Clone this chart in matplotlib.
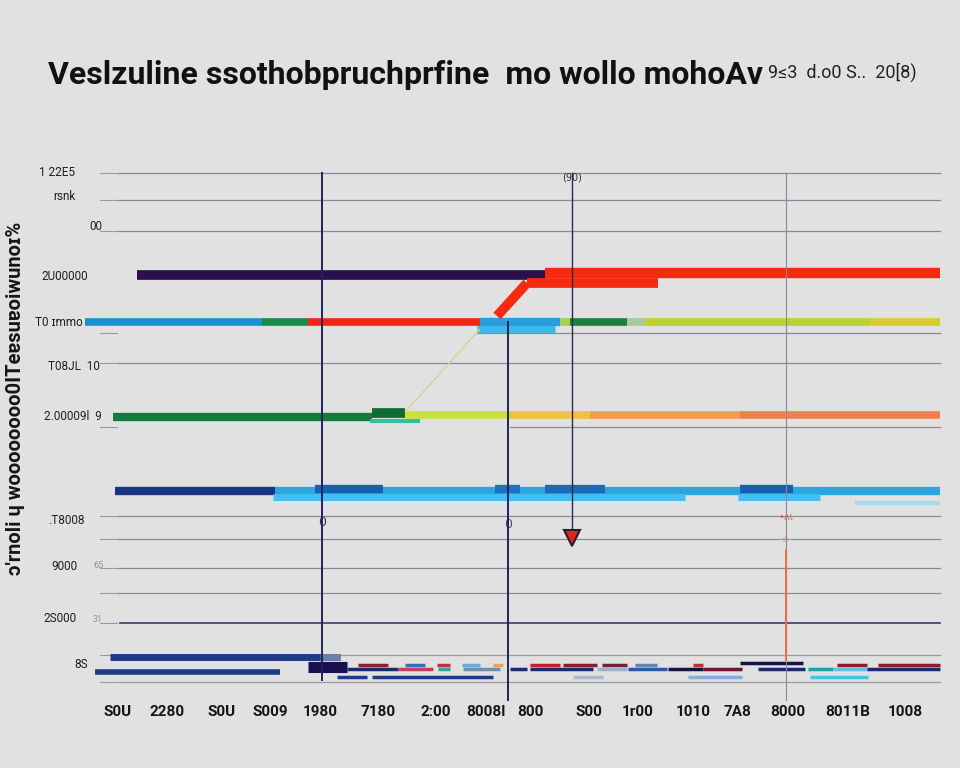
import matplotlib
matplotlib.use('Agg')
import matplotlib.pyplot as plt

# chart units: x runs 0..855 across the plot, y runs 0..540 bottom to top
bg = '#e1e1e1'

grid_y = [527, 500, 469, 367, 337, 273, 184, 161, 132, 107, 77, 45, 18]
grid_x0 = [28, 28, 28, 387, 28, 420, 28, 28, 28, 28, 30, 250, 28]
grid_col = ['#8a8a9a'] * 10 + ['#3a3a70', '#9a9aa0', '#9a9aa0']

vlines_x = [232, 418, 482, 696]
vlines_lo = [20, 0, 160, 0]
vlines_hi = [527, 378, 527, 527]
vlines_col = ['#22225a', '#22225a', '#2a2a4a', '#8a8a95']
vlines_lw = [1.4, 1.4, 1.0, 0.8]

# thick bars: x start, x end, y, colour, width
bars = [
    (47, 455, 425, '#2b1050', 7),
    (455, 850, 427, '#f52a10', 7.5),
    (437, 568, 417, '#f52a10', 7),
    (-5, 172, 378, '#1b8fd0', 5.5),
    (172, 218, 378, '#1a8a4a', 5.5),
    (218, 395, 378, '#f02515', 5.5),
    (390, 470, 378, '#2a9ee0', 6),
    (387, 465, 371, '#3ab8e8', 5),
    (470, 480, 378, '#a8d050', 5.5),
    (480, 537, 378, '#1e7e3e', 5.5),
    (537, 555, 378, '#a8c8a0', 5.5),
    (555, 780, 378, '#bcd030', 5.5),
    (780, 850, 378, '#d8cc30', 5.5),
    (23, 282, 283, '#157a40', 6),
    (280, 330, 279, '#30c0a0', 3),
    (282, 315, 287, '#106a35', 7),
    (315, 420, 285, '#cce040', 5.5),
    (420, 500, 285, '#f0c040', 5.5),
    (500, 650, 285, '#f29a50', 5.5),
    (650, 850, 285, '#f08050', 5.5),
    (25, 185, 209, '#1a3580', 6),
    (185, 850, 209, '#2aa8de', 6),
    (183, 595, 203, '#40bff0', 5),
    (648, 730, 203, '#40bff0', 5),
    (765, 850, 197, '#a8d8ec', 3),
    (225, 293, 211, '#1a60b0', 6),
    (405, 430, 211, '#2070c0', 6),
    (455, 515, 211, '#1e68b8', 6),
    (650, 703, 211, '#1a5fb0', 6),
    (20, 250, 43, '#1e3a85', 5),
    (230, 250, 43, '#6a80a8', 5),
    (5, 190, 28, '#1e3a85', 4),
    (218, 257, 33, '#1a1050', 8),
]

# small marks in the crowded band near the bottom
bottom_bits = [
    (268, 298, 35, '#8a2030'), (315, 335, 35, '#3070c0'), (347, 360, 35, '#c03040'),
    (372, 390, 35, '#70a8d0'), (403, 413, 35, '#f0a050'), (440, 470, 35, '#c02030'),
    (473, 507, 35, '#8a1a30'), (512, 537, 35, '#702040'), (545, 567, 35, '#6a80b0'),
    (603, 613, 35, '#c03030'), (650, 713, 37, '#141440'), (747, 777, 35, '#8a1a30'),
    (788, 850, 35, '#8a1a30'),
    (257, 308, 31, '#1e2a70'), (308, 343, 31, '#c04060'), (348, 360, 31, '#30a0a0'),
    (373, 410, 31, '#7090b0'), (420, 437, 31, '#1e2a70'), (440, 503, 31, '#1e2a70'),
    (507, 537, 31, '#a0b0c8'), (538, 577, 31, '#2a5aa0'), (578, 613, 31, '#141440'),
    (613, 652, 31, '#6a1a30'), (668, 715, 31, '#1e2a70'), (718, 743, 31, '#20a0a8'),
    (743, 777, 31, '#60c0e0'), (777, 850, 31, '#1e2a70'),
    (247, 277, 23, '#1e3a85'), (282, 403, 23, '#1e3a85'), (483, 513, 23, '#a8b8d0'),
    (598, 652, 23, '#80b0e0'), (720, 778, 23, '#40c8e0'),
]

diag_x = [[407, 437], [315, 390]]
diag_y = [[384, 417], [288, 371]]
diag_col = ['#f52a10', '#c8d890']
diag_lw = [7, 1]

ytick_text = ['1 22E5', 'rsnk', '00', '2U00000', 'T0 ɪmmo', 'T08JL  10',
              '2.00009l  9', '.T8008', '9000', '2S000', '8S']
ytick_y = [527, 503, 474, 423, 378, 334, 284, 180, 134, 81, 35]
ytick_x = [-15, -15, 12, -2, -7, 10, 12, -5, -13, -13, -2]
ytick_small = ['65', '31']
ytick_small_y = [134, 81]

xtick_text = ['S0U', '2280', 'S0U', 'S009', '1980', '7180', '2:00', '8008l',
              '800', 'S00', '1r00', '1010', '7A8', '8000', '8011B', '1008']
xtick_x = [28, 77, 132, 180, 230, 288, 346, 396, 440, 499, 548, 603, 647, 698, 758, 815]

fig = plt.figure(figsize=(9.6, 7.68), dpi=100, facecolor=bg)
ax = fig.add_axes([90 / 960, 68 / 768, 855 / 960, 540 / 768])
ax.set_facecolor(bg)
ax.set_xlim(0, 855)
ax.set_ylim(0, 540)
for s in ax.spines.values():
    s.set_visible(False)
ax.set_xticks([])
ax.set_yticks([])

for y, x0, c in zip(grid_y, grid_x0, grid_col):
    ax.plot([x0, 850], [y, y], color=c, lw=0.9 if c != '#3a3a70' else 1.2, zorder=1)
    ax.plot([10, 27], [y, y], color='#9a9aa0', lw=0.8, zorder=1, clip_on=False)

for x, lo, hi, c, lw in zip(vlines_x, vlines_lo, vlines_hi, vlines_col, vlines_lw):
    ax.plot([x, x], [lo, hi], color=c, lw=lw, zorder=4, clip_on=False)
ax.plot([696, 696], [40, 150], color='#f06a40', lw=1.4, zorder=4)

for x0, x1, y, c, w in bars:
    ax.plot([x0, x1], [y, y], color=c, lw=w, solid_capstyle='butt', zorder=3, clip_on=False)
for x0, x1, y, c in bottom_bits:
    ax.plot([x0, x1], [y, y], color=c, lw=2.5, solid_capstyle='butt', zorder=3)
for xs, ys, c, lw in zip(diag_x, diag_y, diag_col, diag_lw):
    ax.plot(xs, ys, color=c, lw=lw, solid_capstyle='butt', zorder=3)

ax.plot([482], [162], marker='v', ms=11, color='#e82020', mec='#202030', mew=1.5, zorder=5)
ax.text(482, 522, '(90)', fontsize=7, ha='center', va='center', color='#303040')
ax.text(232, 178, '0', fontsize=9, ha='center', va='center', color='#303050')
ax.text(418, 175, '0', fontsize=9, ha='center', va='center', color='#505060')
ax.text(696, 183, '•ᴧι', fontsize=7, ha='center', va='center', color='#e06a40')
ax.text(696, 160, '-±-', fontsize=6, ha='center', va='center', color='#e0a080')

narrow = ['Roboto', 'DejaVu Sans']
for t, y, x in zip(ytick_text, ytick_y, ytick_x):
    ax.text(x, y, t, fontsize=8.5, ha='right', va='center', color='#202020',
            family=narrow, clip_on=False)
for t, y in zip(ytick_small, ytick_small_y):
    ax.text(13, y, t, fontsize=6.5, ha='right', va='center', color='#909090',
            family=narrow, clip_on=False)
for t, x in zip(xtick_text, xtick_x):
    ax.text(x, -12, t, fontsize=11, ha='center', va='center', color='#151515',
            family=narrow, weight='bold', clip_on=False)

fig.text(16 / 960, 1 - 398 / 768, "ɔ'rnoli ɥ woooooooo0ITeɐsuɐoiwunoɪ%",
         rotation=90, fontsize=14.5, ha='center', va='center', color='#151515',
         family=narrow, weight='bold')
fig.text(48 / 960, 1 - 75 / 768, 'Veslzuline ssothobpruchprfine  mo wollo mohoAv',
         fontsize=23, ha='left', va='center', color='#111111', family=narrow, weight='bold')
fig.text(768 / 960, 1 - 72 / 768, '9≤3  d.o0 S..  20[8)',
         fontsize=13, ha='left', va='center', color='#222222', family=narrow)

fig.savefig('out.png', dpi=100, facecolor=bg)
